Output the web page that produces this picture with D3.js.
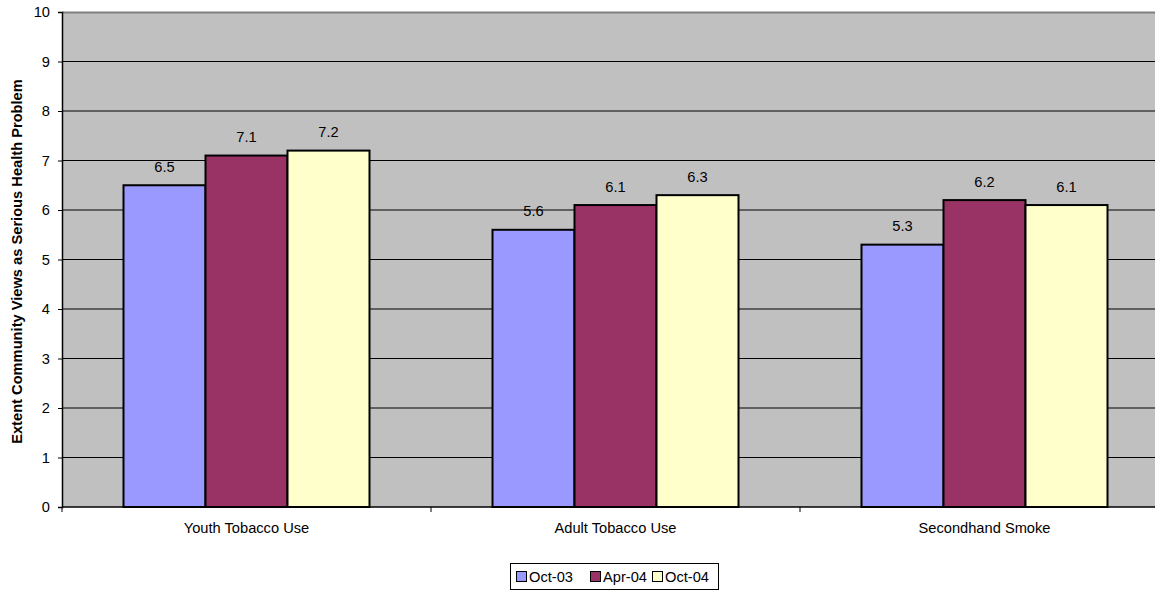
<!DOCTYPE html>
<html><head><meta charset="utf-8">
<script src="https://cdn.jsdelivr.net/npm/d3@7"></script>
<style>body{margin:0;background:#fff}svg{display:block}text{font-family:Arial,"Liberation Sans",sans-serif}</style>
</head><body>
<svg id="c" width="1155" height="590"></svg>
<script>
const categories = ["Youth Tobacco Use", "Adult Tobacco Use", "Secondhand Smoke"];
const seriesNames = ["Oct-03", "Apr-04", "Oct-04"];
const oct03 = [6.5, 5.6, 5.3];
const apr04 = [7.1, 6.1, 6.2];
const oct04 = [7.2, 6.3, 6.1];
const yTicks = [0,1,2,3,4,5,6,7,8,9,10];
const colors = ["#9999FF", "#993366", "#FFFFCC"];
const values = [oct03, apr04, oct04];

(function(){
const FS = 14.67;
const svg = d3.select("#c");
const pL = 62, pR = 1169, pT = 12, pB = 507;
const x = d3.scaleBand().domain(categories).range([pL, pR]).padding(0);
const step = x.bandwidth();
const xs = d3.scaleBand().domain(seriesNames).range([step/6, step*5/6]).padding(0);
const y = d3.scaleLinear().domain([0, 10]).range([pB, pT]);

svg.append("rect").attr("x", pL).attr("y", pT).attr("width", pR-pL).attr("height", pB-pT).attr("fill", "#C0C0C0");
// gridlines
svg.append("g").selectAll("line").data(yTicks.filter(d=>d>0 && d<10)).join("line")
  .attr("x1", pL).attr("x2", pR).attr("y1", d=>y(d)).attr("y2", d=>y(d))
  .attr("stroke", "#000").attr("stroke-width", 1);
svg.append("line").attr("x1", pL).attr("x2", pR).attr("y1", pT+0.5).attr("y2", pT+0.5).attr("stroke", "#808080").attr("stroke-width", 2);

// y axis
const ya = svg.append("g").attr("transform", `translate(${pL},0)`)
  .call(d3.axisLeft(y).tickValues(yTicks).tickSize(4).tickPadding(8).tickFormat(d3.format("d")));
ya.select(".domain").attr("stroke", "#000").attr("stroke-width", 1.5);
ya.selectAll(".tick line").attr("stroke", "#000");
ya.selectAll("text").attr("font-size", FS).attr("fill", "#000").attr("font-family", "Arial, 'Liberation Sans', sans-serif");

// bars
categories.forEach((c, ci) => {
  seriesNames.forEach((s, si) => {
    const v = values[si][ci];
    svg.append("rect")
      .attr("x", x(c) + xs(s)).attr("y", y(v))
      .attr("width", xs.bandwidth()).attr("height", y(0) - y(v))
      .attr("fill", colors[si]).attr("stroke", "#000").attr("stroke-width", 2);
    svg.append("text")
      .attr("x", x(c) + xs(s) + xs.bandwidth()/2).attr("y", y(v) - 13.5)
      .attr("text-anchor", "middle").attr("font-size", FS).attr("fill", "#000")
      .text(d3.format(".1f")(v));
  });
});

// x axis
const xa = svg.append("g").attr("transform", `translate(0,${pB})`);
xa.append("line").attr("x1", pL).attr("x2", pR).attr("stroke", "#000").attr("stroke-width", 1.5);
xa.selectAll("line.t").data(categories).join("line").attr("class","t")
  .attr("x1", d=>x(d)).attr("x2", d=>x(d)).attr("y1", 0).attr("y2", 5).attr("stroke", "#000");
xa.selectAll("text").data(categories).join("text")
  .attr("x", d=>x(d)+step/2).attr("y", 26).attr("text-anchor", "middle").attr("font-size", FS).attr("fill", "#000")
  .text(d=>d);

// y title
svg.append("text").attr("transform", `translate(22,${(pT+pB)/2 + 2}) rotate(-90)`)
  .attr("text-anchor", "middle").attr("font-size", FS).attr("font-weight", "bold").attr("fill", "#000")
  .text("Extent Community Views as Serious Health Problem");

// legend
const lg = svg.append("g");
lg.append("rect").attr("x", 510.5).attr("y", 563.5).attr("width", 208).attr("height", 26).attr("fill", "#fff").attr("stroke", "#000");
const lx = [516, 590, 652];
seriesNames.forEach((s, i) => {
  lg.append("rect").attr("x", lx[i]+0.5).attr("y", 571.5).attr("width", 10).attr("height", 10).attr("fill", colors[i]).attr("stroke", "#000");
  lg.append("text").attr("x", lx[i]+13).attr("y", 581.5).attr("font-size", FS).attr("fill", "#000").text(s);
});
})();
</script>
</body></html>
